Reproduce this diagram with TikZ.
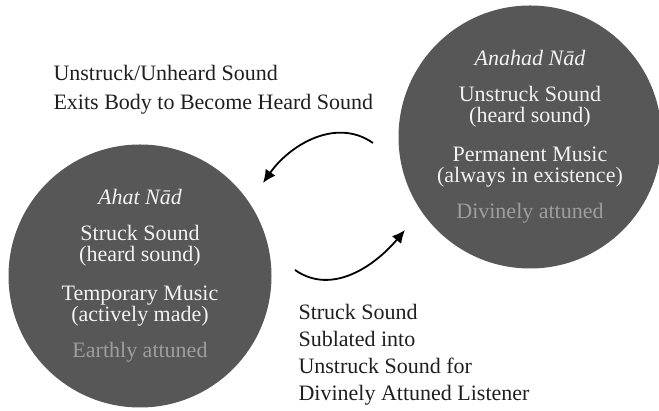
\documentclass[tikz,border=0pt]{standalone}
\usepackage{fontspec}
\setmainfont{Liberation Serif}
\usepackage{tikz}
\usetikzlibrary{arrows.meta}

\begin{document}
\begin{tikzpicture}[
  x=1pt, y=1pt,
  font=\fontsize{22}{21}\selectfont,
  realm/.style={circle, fill=black!66, text=black!5, minimum size=263pt, inner sep=0pt, align=center},
  caption/.style={anchor=west, align=left, text=black!88, font=\fontsize{22}{29}\selectfont},
  flow/.style={line width=1.8pt, -{Latex[length=13pt, width=12pt]}},
]
\useasboundingbox (0,0) rectangle (659,411);
\node[realm] (ahat) at (140,135) {\textit{Ahat Nād}\\[15pt] Struck Sound\\ (heard sound)\\[18pt] Temporary Music\\ (actively made)\\[15pt] \textcolor{black!38}{Earthly attuned}};
\node[realm] (anahad) at (530,274) {\textit{Anahad Nād}\\[15pt] Unstruck Sound\\ (heard sound)\\[18pt] Permanent Music\\ (always in existence)\\[15pt] \textcolor{black!38}{Divinely attuned}};
\node[caption] (exits) at (50,321.5) {Unstruck/Unheard Sound\\ Exits Body to Become Heard Sound};
\node[caption, font=\fontsize{22}{27}\selectfont] (sublated) at (295,56) {Struck Sound\\ Sublated into\\ Unstruck Sound for\\ Divinely Attuned Listener};
\coordinate (downfrom) at (373,268);
\coordinate (downto) at (263,228);
\coordinate (upfrom) at (295,141);
\coordinate (upto) at (405,181);
\draw[flow] (downfrom) to[out=145, in=55] (downto);
\draw[flow] (upfrom) to[out=-35, in=-130] (upto);
\end{tikzpicture}
\end{document}
